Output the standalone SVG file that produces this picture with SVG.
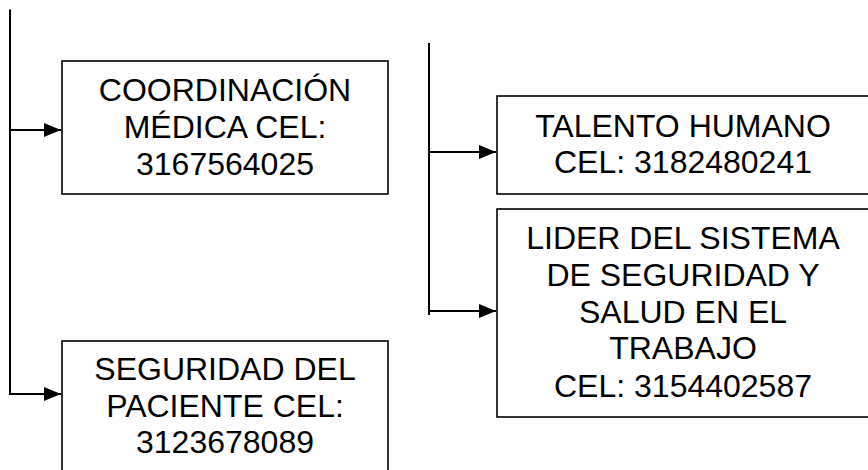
<svg xmlns="http://www.w3.org/2000/svg" width="868" height="470" viewBox="0 0 868 470">
  <style>
    .box { fill: #ffffff; stroke: #000000; stroke-width: 1.6; }
    .lbl { font-family: "Liberation Sans", Arial, sans-serif; font-size: 32px; fill: #000000; text-anchor: middle; }
    .conn { fill: none; stroke: #000000; stroke-width: 2; }
  </style>
  <defs>
    <marker id="arrow" markerUnits="userSpaceOnUse" markerWidth="17" markerHeight="14" refX="17" refY="7" orient="auto">
      <path d="M0,0 L17,7 L0,14 Z" fill="#000000"/>
    </marker>
  </defs>
  <rect width="868" height="470" fill="#ffffff"/>

  <g id="connectors">
    <path class="conn" d="M10,9.5 V394 H61" marker-end="url(#arrow)"/>
    <path class="conn" d="M10,130 H61" marker-end="url(#arrow)"/>
    <path class="conn" d="M429,43 V315"/>
    <path class="conn" d="M429,152 H496" marker-end="url(#arrow)"/>
    <path class="conn" d="M429,311 H496" marker-end="url(#arrow)"/>
  </g>

  <g id="coordinacion-medica">
    <rect class="box" x="62" y="61" width="326" height="133"/>
    <text class="lbl" x="225" y="101">COORDINACIÓN</text>
    <text class="lbl" x="225" y="138">MÉDICA CEL:</text>
    <text class="lbl" x="225" y="175">3167564025</text>
  </g>

  <g id="seguridad-paciente">
    <rect class="box" x="62" y="341" width="326" height="140"/>
    <text class="lbl" x="225" y="380">SEGURIDAD DEL</text>
    <text class="lbl" x="225" y="417">PACIENTE CEL:</text>
    <text class="lbl" x="225" y="453">3123678089</text>
  </g>

  <g id="talento-humano">
    <rect class="box" x="497" y="96" width="380" height="98"/>
    <text class="lbl" x="683" y="137">TALENTO HUMANO</text>
    <text class="lbl" x="683" y="173">CEL: 3182480241</text>
  </g>

  <g id="lider-sst">
    <rect class="box" x="497" y="209" width="380" height="208"/>
    <text class="lbl" x="683" y="249">LIDER DEL SISTEMA</text>
    <text class="lbl" x="683" y="286">DE SEGURIDAD Y</text>
    <text class="lbl" x="683" y="323">SALUD EN EL</text>
    <text class="lbl" x="683" y="359">TRABAJO</text>
    <text class="lbl" x="683" y="397">CEL: 3154402587</text>
  </g>
</svg>
